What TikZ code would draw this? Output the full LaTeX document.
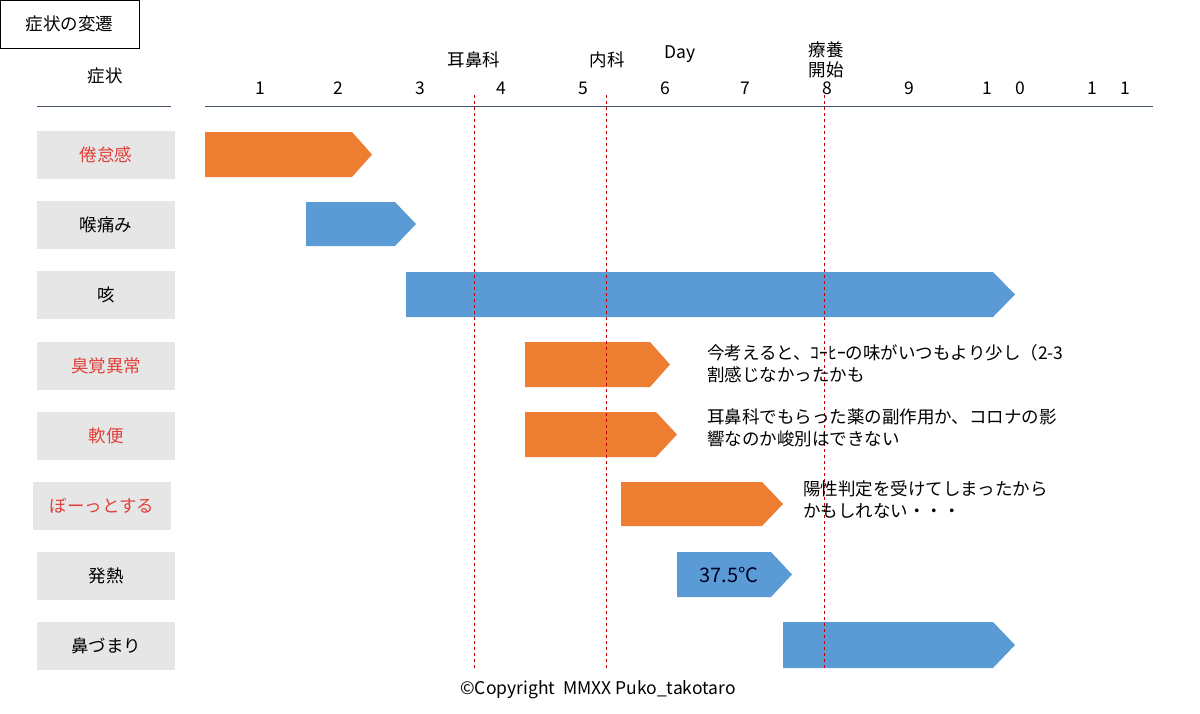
\documentclass[tikz,border=0pt]{standalone}
\usepackage{fontspec}
\setmainfont{Noto Sans CJK JP}
\usetikzlibrary{calc}
\definecolor{barorange}{HTML}{ED7D31}
\definecolor{barblue}{HTML}{5B9BD5}
\definecolor{labelgrey}{HTML}{E7E6E6}
\definecolor{redtext}{HTML}{E0403A}
\definecolor{axisline}{HTML}{44546A}
\tikzset{
  txt/.style={font=\fontsize{17.5}{20}\selectfont},
  rowlabel/.style={txt,fill=labelgrey,minimum width=138pt,minimum height=48pt,inner sep=0pt},
  daynum/.style={txt},
  remark/.style={anchor=north west,align=left,inner sep=0pt,font=\fontsize{17.5}{22}\selectfont},
  visit/.style={draw=red!75!black,dashed,line width=0.9pt}
}
% Syntax: [fill colour] {name} {left} {tip start} {right} {top} {bottom}
\newcommand{\symbar}[7][barblue]{
  \coordinate (#2-nw) at (#3,#6);
  \coordinate (#2-sw) at (#3,#7);
  \coordinate (#2-tip) at (#5,{(#6+#7)/2});
  \fill[#1] (#2-nw) -- (#4,#6) -- (#2-tip) -- (#4,#7) -- (#2-sw) -- cycle;
}
\begin{document}
\begin{tikzpicture}[x=1pt,y=-1pt]
\useasboundingbox (0,0) rectangle (1200,713);
\node[draw,thick,txt,minimum width=139pt,minimum height=48pt] (title) at (69.5,24) {症状の変遷};
\node[txt] (symhead) at (105,76) {症状};
\draw[axisline,thick] (37,106) -- (171,106);
\draw[axisline,thick] (205,106) -- (1153,106);
\node[txt] (day) at (680,54) {Day};
\foreach \d/\x in {1/260,2/338,3/420,4/501,5/583,6/665,7/745,8/827,9/909,1/987,0/1020,1/1092,1/1125}
  \node[daynum] at (\x,88) {\d};
% bars
\symbar[barorange]{fatigue}{205}{352}{372}{132}{177}
\symbar{throat}{306}{395}{416}{202}{246}
\symbar{cough}{406}{993}{1015}{272}{317}
\symbar[barorange]{smell}{525}{650}{670}{342}{387}
\symbar[barorange]{stool}{525}{656}{677}{412}{457}
\symbar[barorange]{daze}{621}{762}{783}{482}{526}
\symbar{fever}{677}{771}{792}{552}{597}
\symbar{nose}{783}{993}{1015}{622}{668}
\node[font=\fontsize{20}{22}\selectfont,text=black!85!blue] (temp) at (729,575) {37.5°C};
% visits
\foreach \x/\n in {474/ent,606/clinic,824/rest}
  \draw[visit] (\x,95) -- (\x,668);
\node[txt] (entlbl) at (474,60) {耳鼻科};
\node[txt] (cliniclbl) at (607,60) {内科};
\node[txt,align=center] (restlbl) at (826,60) {療養\\開始};
% row labels
\node[rowlabel,text=redtext] (r1) at (106,155) {倦怠感};
\node[rowlabel] (r2) at (106,225) {喉痛み};
\node[rowlabel] (r3) at (106,295) {咳};
\node[rowlabel,text=redtext] (r4) at (106,366) {臭覚異常};
\node[rowlabel,text=redtext] (r5) at (106,436) {軟便};
\node[rowlabel,text=redtext] (r6) at (102,506) {ぼーっとする};
\node[rowlabel] (r7) at (106,576) {発熱};
\node[rowlabel] (r8) at (106,646) {鼻づまり};
% remarks
\node[remark] (c1) at (707,344) {今考えると、ｺｰﾋｰの味がいつもより少し（2-3\\割感じなかったかも};
\node[remark] (c2) at (707,409) {耳鼻科でもらった薬の副作用か、コロナの影\\響なのか峻別はできない};
\node[remark] (c3) at (803,481) {陽性判定を受けてしまったから\\かもしれない・・・};
\node[txt] (copy) at (598,690) {©Copyright\ \ MMXX Puko\_takotaro};
\end{tikzpicture}
\end{document}
